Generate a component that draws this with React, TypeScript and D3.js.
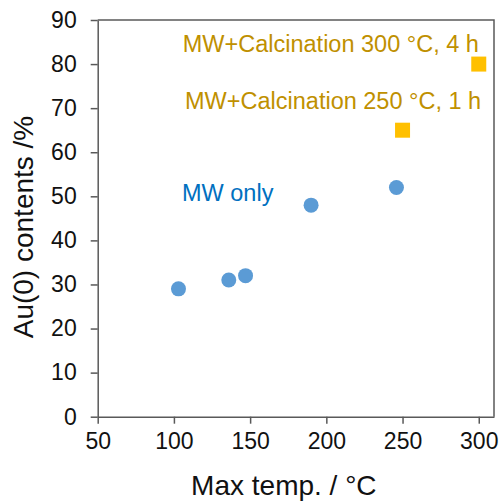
import React, { useEffect, useRef } from "react";
import * as d3 from "d3";

// MW only (circles)
const mwTemps = [103, 136, 147, 190, 246];
const mwValues = [29, 31, 32, 48, 52];

// MW + calcination (squares)
const calcTemps = [250, 300];
const calcValues = [65, 80];

const xTicks = [50, 100, 150, 200, 250, 300];
const yTicks = [0, 10, 20, 30, 40, 50, 60, 70, 80, 90];

const labels = [
  { text: "MW+Calcination 300 °C, 4 h", x: 105.8, y: 82.8, color: "#BF9000" },
  { text: "MW+Calcination 250 °C, 1 h", x: 107.3, y: 69.9, color: "#BF9000" },
  { text: "MW only", x: 105.3, y: 49.0, color: "#0070C0" },
];

const width = 500;
const height = 501;
const margin = { top: 20, right: 6, bottom: 84.3, left: 97.7 };

export default function App() {
  const ref = useRef<SVGSVGElement>(null);

  useEffect(() => {
    const svg = d3.select(ref.current);
    svg.selectAll("*").remove();

    const x = d3
      .scaleLinear()
      .domain([50, 310])
      .range([margin.left, width - margin.right]);
    const y = d3
      .scaleLinear()
      .domain([0, 90])
      .range([height - margin.bottom, margin.top]);

    const axisColor = "#595959";
    const font = "Liberation Sans, Arial, sans-serif";

    // frame (top + right)
    svg
      .append("path")
      .attr("d", `M${x(50)},${y(90)}H${x(310)}V${y(0)}`)
      .attr("fill", "none")
      .attr("stroke", axisColor)
      .attr("stroke-width", 1.5);

    const xAxis = svg
      .append("g")
      .attr("transform", `translate(0,${y(0)})`)
      .call(d3.axisBottom(x).tickValues(xTicks).tickSize(7).tickPadding(9).tickSizeOuter(0));
    const yAxis = svg
      .append("g")
      .attr("transform", `translate(${x(50)},0)`)
      .call(d3.axisLeft(y).tickValues(yTicks).tickSize(7).tickPadding(14).tickSizeOuter(0));

    [xAxis, yAxis].forEach((g) => {
      g.select(".domain").attr("stroke", axisColor).attr("stroke-width", 1.5);
      g.selectAll(".tick line").attr("stroke", axisColor).attr("stroke-width", 1.5);
      g.selectAll(".tick text")
        .attr("fill", "#111")
        .attr("font-size", 23)
        .attr("font-family", font);
    });

    svg
      .selectAll(".mw")
      .data(mwTemps)
      .enter()
      .append("circle")
      .attr("class", "mw")
      .attr("cx", (d) => x(d))
      .attr("cy", (d, i) => y(mwValues[i]))
      .attr("r", 7.5)
      .attr("fill", "#5B9BD5");

    const sq = 15;
    svg
      .selectAll(".calc")
      .data(calcTemps)
      .enter()
      .append("rect")
      .attr("class", "calc")
      .attr("x", (d) => x(d) - sq / 2)
      .attr("y", (d, i) => y(calcValues[i]) - sq / 2)
      .attr("width", sq)
      .attr("height", sq)
      .attr("fill", "#FFC000");

    svg
      .selectAll(".lbl")
      .data(labels)
      .enter()
      .append("text")
      .attr("class", "lbl")
      .attr("x", (d) => x(d.x))
      .attr("y", (d) => y(d.y))
      .attr("fill", (d) => d.color)
      .attr("font-size", 23.5)
      .attr("font-family", font)
      .text((d) => d.text);

    svg
      .append("text")
      .attr("x", (x(50) + x(310)) / 2 - 12)
      .attr("y", 495)
      .attr("text-anchor", "middle")
      .attr("font-size", 28)
      .attr("font-family", font)
      .attr("fill", "#111")
      .text("Max temp. / °C");

    svg
      .append("text")
      .attr("transform", `translate(33,${227}) rotate(-90)`)
      .attr("text-anchor", "middle")
      .attr("font-size", 28)
      .attr("font-family", font)
      .attr("fill", "#111")
      .text("Au(0) contents /%");
  }, []);

  return (
    <svg
      ref={ref}
      width={width}
      height={height}
      style={{ position: "absolute", top: 0, left: 0, background: "#fff" }}
    />
  );
}
